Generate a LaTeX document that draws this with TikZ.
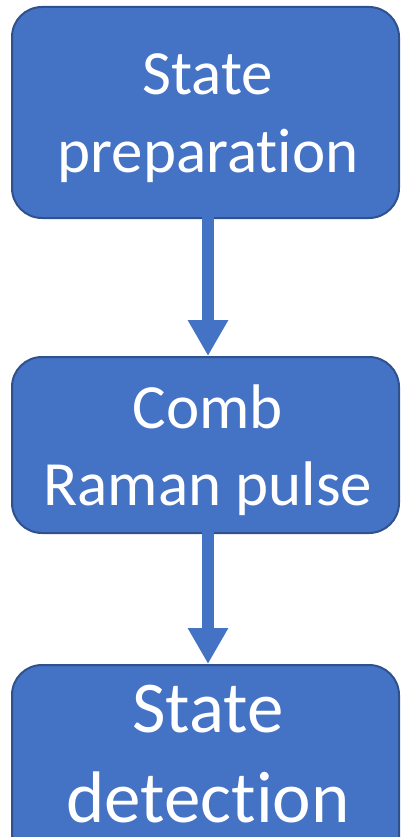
\documentclass[tikz,border=0pt]{standalone}
\usepackage{fontspec}
\setmainfont[Ligatures=NoCommon]{Carlito}
\usetikzlibrary{arrows.meta}
\definecolor{boxfill}{HTML}{4472C4}
\definecolor{boxline}{HTML}{2F528F}
\tikzset{
  stepbox/.style={draw=boxline, line width=2pt, fill=boxfill, rounded corners=30pt},
  boxtext/.style={text=white, anchor=base, inner sep=0pt},
  flow/.style={draw=boxfill, line width=12pt, -{Triangle[length=36pt, width=38pt]}, shorten >=1pt}
}
\begin{document}
\begin{tikzpicture}[x=1pt, y=-1pt]
\useasboundingbox (0,0) rectangle (401,837);
\clip (0,0) rectangle (401,837);
% boxes
\draw[stepbox] (12,7) rectangle (399,218);
\draw[stepbox] (12,357) rectangle (399,533);
\draw[stepbox] (12,665) rectangle (399,900);
\coordinate (b1) at (208,218);
\coordinate (t2) at (208,357);
\coordinate (b2) at (208,533);
\coordinate (t3) at (208,665);
% texts
\node[boxtext, font=\fontsize{63}{77}\selectfont] (s1a) at (208,95) {State};
\node[boxtext, font=\fontsize{63}{77}\selectfont] (s1b) at (208,172) {preparation};
\node[boxtext, font=\fontsize{63}{77}\selectfont] (s2a) at (208,428) {Comb};
\node[boxtext, font=\fontsize{63}{77}\selectfont] (s2b) at (208,505) {Raman pulse};
\node[boxtext, font=\fontsize{73}{89}\selectfont] (s3a) at (208,732) {State};
\node[boxtext, font=\fontsize{73}{89}\selectfont] (s3b) at (208,822) {detection};
% arrows
\draw[flow] ([yshift=1pt]b1) -- (t2);
\draw[flow] ([yshift=1pt]b2) -- (t3);
\end{tikzpicture}
\end{document}
